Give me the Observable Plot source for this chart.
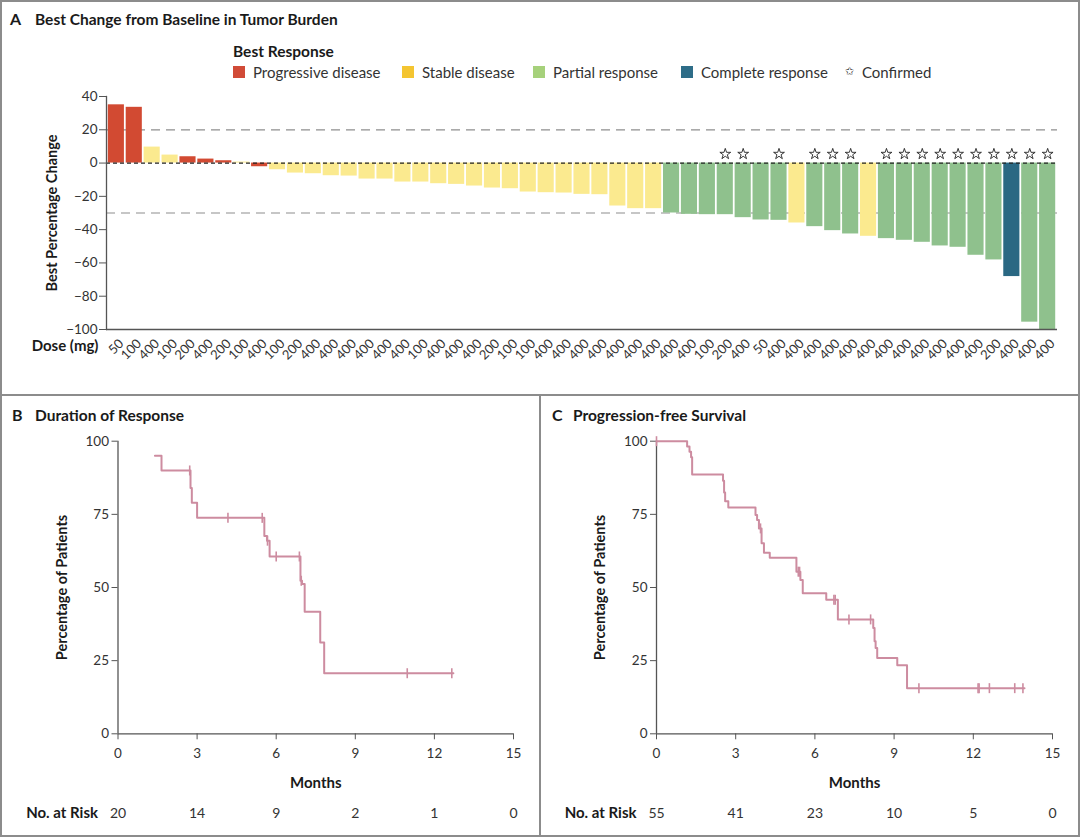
<!DOCTYPE html>
<html><head><meta charset="utf-8">
<script src="https://cdn.jsdelivr.net/npm/d3@7"></script>
<script src="https://cdn.jsdelivr.net/npm/@observablehq/plot@0.6"></script>
<style>
body{margin:0;background:#fff;font-family:Lato,"Open Sans",sans-serif;color:#222}
#fig{position:relative;width:1080px;height:837px;overflow:hidden;background:#fff}
.box{position:absolute;left:0;top:0;width:1080px;height:837px;border:2px solid #8c8c8c;box-sizing:border-box}
.hl{position:absolute;left:0;top:394px;width:1080px;height:2px;background:#8c8c8c}
.vl{position:absolute;left:539px;top:394px;width:2px;height:443px;background:#8c8c8c}
.t{position:absolute;white-space:nowrap;line-height:18px}
.b{font-weight:bold}
.sq{position:absolute;width:12px;height:12px}
.plot{position:absolute}
</style></head>
<body><div id="fig">
<div class="box"></div><div class="hl"></div><div class="vl"></div>
</div>
<script>
// ---------- data ----------
const doses = [50,100,400,100,200,400,200,100,400,100,200,400,400,400,400,400,400,100,400,400,400,200,100,100,400,400,400,400,400,400,400,400,400,100,200,400,50,400,400,400,400,400,400,400,400,400,400,400,400,200,400,400,400];
const changes = [35,33.5,9.6,4.8,3.8,2.4,1.4,0.6,-2.2,-4,-6,-6.4,-7.6,-7.8,-9.6,-9.6,-11.4,-11.4,-12.4,-12.8,-13.8,-15,-15.4,-17.4,-17.8,-18,-18.8,-19,-25.8,-27.4,-27.4,-30,-30.8,-31,-31,-32.8,-34.2,-34.4,-36,-38.2,-40.6,-42.6,-44,-45.4,-46.4,-47.6,-49.8,-50.6,-55.4,-58.2,-68.2,-95.6,-100];
const responses = ["PD","PD","SD","SD","PD","PD","PD","SD","PD",
  "SD","SD","SD","SD","SD","SD","SD","SD","SD","SD","SD","SD","SD","SD","SD","SD","SD","SD","SD","SD","SD","SD",
  "PR","PR","PR","PR","PR","PR","PR","SD","PR","PR","PR","SD","PR","PR","PR","PR","PR","PR","PR","CR","PR","PR"];
const confirmedIdx = [34,35,37,39,40,41,43,44,45,46,47,48,49,50,51,52];
const respCodes = ["PD","SD","PR","CR"];
const respNames = ["Progressive disease","Stable disease","Partial response","Complete response"];
const barColors = ["#d24a32","#fbea8f","#8fc18d","#2a6883"];
const legendColors = ["#d14b37","#f4c531","#a6d17b","#2e6d88"];
const yTicksA = [-100,-80,-60,-40,-20,0,20,40];

const dorTimes = [1.4,1.65,2.75,2.8,3.0,5.55,5.65,5.75,6.92,6.98,7.08,7.67,7.82,12.72];
const dorSurv  = [95,90,84,79,73.8,67.6,66,60.6,52.3,51.2,41.7,31.2,20.7,20.7];
const dorCensorT = [2.72,4.17,5.47,5.67,6.0,6.88,6.95,10.97,12.66];
const dorCensorS = [90,73.8,73.8,66,60.6,60.6,52.3,20.7,20.7];

const pfsTimes = [0,1.16,1.25,1.31,1.35,2.52,2.56,2.6,2.72,3.75,3.81,3.88,3.98,4.07,4.29,5.3,5.45,5.54,6.43,6.87,8.21,8.26,8.3,8.36,9.12,9.49,13.94];
const pfsSurv  = [100,98.2,96.4,94.5,88.6,86.5,82.5,79.5,77.3,74.8,73.1,70.2,65.1,61.9,60.2,55.4,52.6,48.0,45.8,39.1,36.2,31.6,29.3,25.9,23.4,15.6,15.6];
const pfsCensorT = [0,3.94,5.37,5.42,6.72,6.77,7.29,8.11,9.94,12.18,12.22,12.61,13.57,13.88];
const pfsCensorS = [100,70.2,55.4,55.4,45.8,45.8,39.1,39.1,15.6,15.6,15.6,15.6,15.6,15.6];

const riskTimes = [0,3,6,9,12,15];
const riskB = [20,14,9,2,1,0];
const riskC = [55,41,23,10,5,0];
const xTicksKM = [0,3,6,9,12,15];
const yTicksKM = [0,25,50,75,100];

// ---------- layout helpers ----------
const fig = document.getElementById("fig");
const FONT = "Lato, 'Open Sans', sans-serif";
function addText(txt, x, yc, size, bold, color){
  const d = document.createElement("div");
  d.className = "t" + (bold ? " b" : "");
  d.textContent = txt;
  d.style.left = x + "px"; d.style.top = (yc - 9) + "px";
  d.style.fontSize = size + "px"; d.style.color = color || "#1a1a1a";
  fig.appendChild(d); return d;
}
function place(svg, left, top){ svg.classList.add("plot"); svg.style.left = left+"px"; svg.style.top = top+"px"; fig.appendChild(svg); }

// titles
addText("A", 10, 19, 16, true); addText("Best Change from Baseline in Tumor Burden", 35, 19, 15.5, true);
addText("B", 12, 415, 16, true); addText("Duration of Response", 35, 415, 15.5, true);
addText("C", 552, 415, 16, true); addText("Progression-free Survival", 573, 415, 15.5, true);

// legend
addText("Best Response", 233, 51, 15.5, true);
const legX = [233, 402, 533, 681];
respNames.forEach((n,i)=>{
  const s = document.createElement("div"); s.className="sq";
  s.style.left = legX[i]+"px"; s.style.top = "66px"; s.style.background = legendColors[i];
  fig.appendChild(s);
  addText(n, legX[i]+20, 72, 15, false, "#333");
});
const st = addText("\u2729", 845, 72, 11, false, "#222"); st.style.fontFamily = "DejaVu Sans";
addText("Confirmed", 862, 72, 15, false, "#333");

// ---------- Panel A ----------
const tumor = doses.map((d,i)=>({i, dose:d, change:changes[i], resp:responses[i], confirmed: confirmedIdx.includes(i)}));
const plotA = Plot.plot({
  width:1080, height:300, marginLeft:106, marginRight:23, marginTop:16, marginBottom:51,
  style:{fontFamily:FONT, fontSize:"13px", color:"#333", background:"transparent", overflow:"visible"},
  x:{type:"band", domain:d3.range(doses.length), padding:0.1, axis:null},
  y:{domain:[-100,40], axis:null},
  color:{domain:respCodes, range:barColors},
  marks:[
    Plot.ruleY([20,-30], {stroke:"#8e8e8e", strokeDasharray:"9,6", strokeWidth:1.2}),
    Plot.barY(tumor, {x:"i", y:"change", fill:"resp"}),
    Plot.ruleY([0], {stroke:"#222", strokeDasharray:"4,3", strokeWidth:1.2}),
    Plot.dot(tumor.filter(d=>d.confirmed), {x:"i", y:d=>0, dy:-9, symbol:"star", r:3.4, fill:"white", stroke:"#222", strokeWidth:0.9}),
    Plot.axisY({ticks:yTicksA, tickSize:7, tickPadding:2, label:null, fontSize:13.5, stroke:"#555"}),
    Plot.axisX({tickRotate:-45, tickSize:0, tickPadding:6, dx:5, dy:6, tickFormat:i=>doses[i], label:null, fontSize:13}),
    Plot.frame({anchor:"left", stroke:"#555", strokeWidth:1.3}),
    Plot.ruleY([-100], {stroke:"#555", strokeWidth:1.3}),
    Plot.text(["Best Percentage Change"], {frameAnchor:"left", textAnchor:"middle", rotate:-90, dx:-54, fontWeight:"bold", fontSize:14.5, fill:"#1a1a1a"}),
    Plot.text(["Dose (mg)"], {frameAnchor:"bottom-left", textAnchor:"end", dx:-8, dy:21, fontWeight:"bold", fontSize:15, fill:"#1a1a1a"})
  ]
});
place(plotA, 0, 80);

// ---------- KM panels ----------
const pink = "#cd8ca0";
const vtick = {draw(ctx, size){ const r = Math.sqrt(size/Math.PI); ctx.moveTo(0,-r); ctx.lineTo(0,r); }};
function km(times, surv, cT, cS, risk, mL, mR){
  const curve = times.map((t,i)=>({t, s:surv[i]}));
  const cens = cT.map((t,i)=>({t, s:cS[i]}));
  const rk = riskTimes.map((t,i)=>({t, n:risk[i]}));
  return Plot.plot({
    width:540, height:410, marginLeft:mL, marginRight:mR, marginTop:20.7, marginBottom:96.7,
    style:{fontFamily:FONT, fontSize:"13px", color:"#333", background:"transparent", overflow:"visible"},
    x:{domain:[0,15], axis:null}, y:{domain:[0,100], axis:null},
    marks:[
      Plot.axisY({ticks:yTicksKM, tickSize:6, tickPadding:3, label:null, fontSize:13.5, stroke:"#555"}),
      Plot.axisX({ticks:xTicksKM, tickSize:6, tickPadding:9, label:null, fontSize:13.5, stroke:"#555"}),
      Plot.ruleX([0], {stroke:"#555", strokeWidth:1.3}),
      Plot.ruleY([0], {stroke:"#555", strokeWidth:1.3}),
      Plot.line(curve, {x:"t", y:"s", curve:"step-after", stroke:pink, strokeWidth:2}),
      Plot.dot(cens, {x:"t", y:"s", symbol:vtick, r:5, stroke:pink, strokeWidth:1.6, fill:"none"}),
      Plot.text(["Percentage of Patients"], {frameAnchor:"left", textAnchor:"middle", rotate:-90, dx:-56, fontWeight:"bold", fontSize:14.5, fill:"#1a1a1a"}),
      Plot.text(["Months"], {frameAnchor:"bottom", dy:54, fontWeight:"bold", fontSize:15, fill:"#1a1a1a"}),
      Plot.text(["No. at Risk"], {frameAnchor:"bottom-left", textAnchor:"end", dx:-20, dy:84, fontWeight:"bold", fontSize:15, fill:"#1a1a1a"}),
      Plot.text(rk, {x:"t", text:"n", frameAnchor:"bottom", dy:84, fontSize:14, fill:"#333"})
    ]
  });
}
place(km(dorTimes, dorSurv, dorCensorT, dorCensorS, riskB, 117.5, 27), 0, 420);
place(km(pfsTimes, pfsSurv, pfsCensorT, pfsCensorS, riskC, 116, 28), 540, 420);
</script>
</body></html>
